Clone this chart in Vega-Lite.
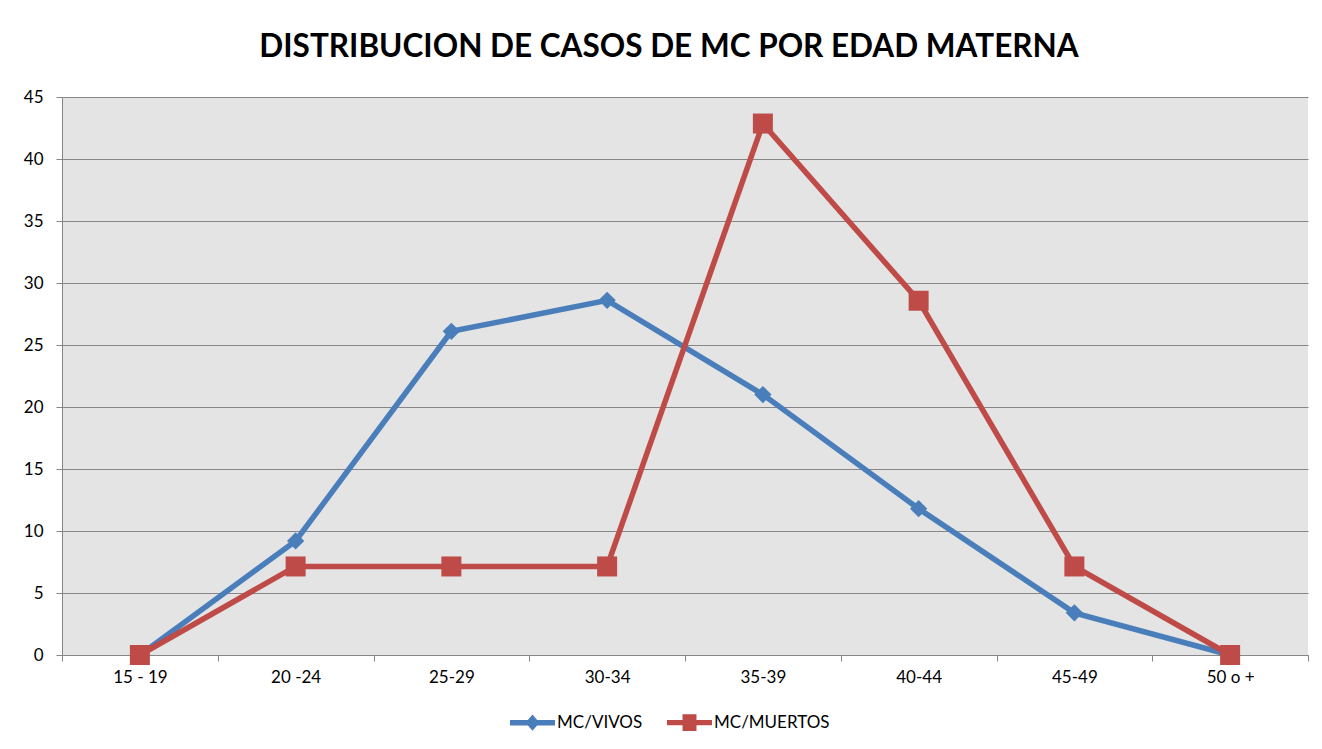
{
  "$schema": "https://vega.github.io/schema/vega-lite/v6.json",
  "width": 1246,
  "height": 558,
  "autosize": {"type": "none"},
  "padding": {"left": 62, "top": 97, "right": 14, "bottom": 94},
  "background": "white",
  "title": {
    "text": "DISTRIBUCION DE CASOS DE MC POR EDAD MATERNA",
    "font": "Lato",
    "fontSize": 31.5,
    "fontWeight": "bold",
    "color": "#000000",
    "anchor": "middle",
    "baseline": "alphabetic",
    "offset": 0,
    "dx": -16
  },
  "config": {
    "view": {"fill": "#E4E4E4", "stroke": null},
    "axis": {
      "title": null,
      "labelFont": "Lato",
      "labelFontSize": 17,
      "labelColor": "#000000",
      "domainColor": "#868686",
      "tickColor": "#868686",
      "tickSize": 6,
      "gridColor": "#868686",
      "gridOpacity": 1
    }
  },
  "data": {
    "values": [
      {"edad": "15 - 19", "serie": "MC/VIVOS", "valor": 0},
      {"edad": "20 -24", "serie": "MC/VIVOS", "valor": 9.2},
      {"edad": "25-29", "serie": "MC/VIVOS", "valor": 26.1},
      {"edad": "30-34", "serie": "MC/VIVOS", "valor": 28.6},
      {"edad": "35-39", "serie": "MC/VIVOS", "valor": 21.0},
      {"edad": "40-44", "serie": "MC/VIVOS", "valor": 11.8},
      {"edad": "45-49", "serie": "MC/VIVOS", "valor": 3.4},
      {"edad": "50 o +", "serie": "MC/VIVOS", "valor": 0},
      {"edad": "15 - 19", "serie": "MC/MUERTOS", "valor": 0},
      {"edad": "20 -24", "serie": "MC/MUERTOS", "valor": 7.14},
      {"edad": "25-29", "serie": "MC/MUERTOS", "valor": 7.14},
      {"edad": "30-34", "serie": "MC/MUERTOS", "valor": 7.14},
      {"edad": "35-39", "serie": "MC/MUERTOS", "valor": 42.86},
      {"edad": "40-44", "serie": "MC/MUERTOS", "valor": 28.57},
      {"edad": "45-49", "serie": "MC/MUERTOS", "valor": 7.14},
      {"edad": "50 o +", "serie": "MC/MUERTOS", "valor": 0}
    ]
  },
  "encoding": {
    "x": {
      "field": "edad",
      "type": "nominal",
      "sort": ["15 - 19", "20 -24", "25-29", "30-34", "35-39", "40-44", "45-49", "50 o +"],
      "scale": {"type": "band", "paddingInner": 0, "paddingOuter": 0},
      "axis": {"labelAngle": 0, "tickBand": "extent", "grid": false, "labelPadding": 8, "labelBaseline": "top"}
    },
    "y": {
      "field": "valor",
      "type": "quantitative",
      "scale": {"domain": [0, 45], "nice": false},
      "axis": {"values": [0, 5, 10, 15, 20, 25, 30, 35, 40, 45], "grid": true, "labelPadding": 13}
    },
    "color": {
      "field": "serie",
      "type": "nominal",
      "scale": {"domain": ["MC/VIVOS", "MC/MUERTOS"], "range": ["#4A7EBB", "#BE4B48"]},
      "legend": {
        "orient": "none",
        "legendX": 448,
        "legendY": 603,
        "direction": "horizontal",
        "title": null,
        "padding": 0,
        "symbolSize": 2025,
        "symbolStrokeWidth": 0,
        "symbolOpacity": 1,
        "labelFont": "Lato",
        "labelFontSize": 17,
        "labelColor": "#000000",
        "labelOffset": 2,
        "columnPadding": 24,
        "encode": {
          "symbols": {
            "update": {
              "shape": {"signal": "datum.value === 'MC/VIVOS' ? 'M-1,-0.12H1V0.12H-1Z M-0.31,0L0,-0.36L0.31,0L0,0.36Z' : 'M-1,-0.12H1V0.12H-1Z M-0.31,-0.37H0.31V0.37H-0.31Z'"},
              "fill": {"scale": "color", "field": "value"},
              "stroke": {"value": "transparent"},
              "strokeWidth": {"value": 0},
              "opacity": {"value": 1}
            }
          }
        }
      }
    }
  },
  "layer": [
    {
      "transform": [{"filter": "datum.serie === 'MC/VIVOS'"}],
      "mark": {"type": "line", "strokeWidth": 5.5}
    },
    {
      "transform": [{"filter": "datum.serie === 'MC/VIVOS'"}],
      "mark": {"type": "point", "shape": "diamond", "filled": true, "size": 300, "opacity": 1}
    },
    {
      "transform": [{"filter": "datum.serie === 'MC/MUERTOS'"}],
      "mark": {"type": "line", "strokeWidth": 5.5}
    },
    {
      "transform": [{"filter": "datum.serie === 'MC/MUERTOS'"}],
      "mark": {"type": "square", "filled": true, "size": 400, "opacity": 1}
    }
  ]
}
